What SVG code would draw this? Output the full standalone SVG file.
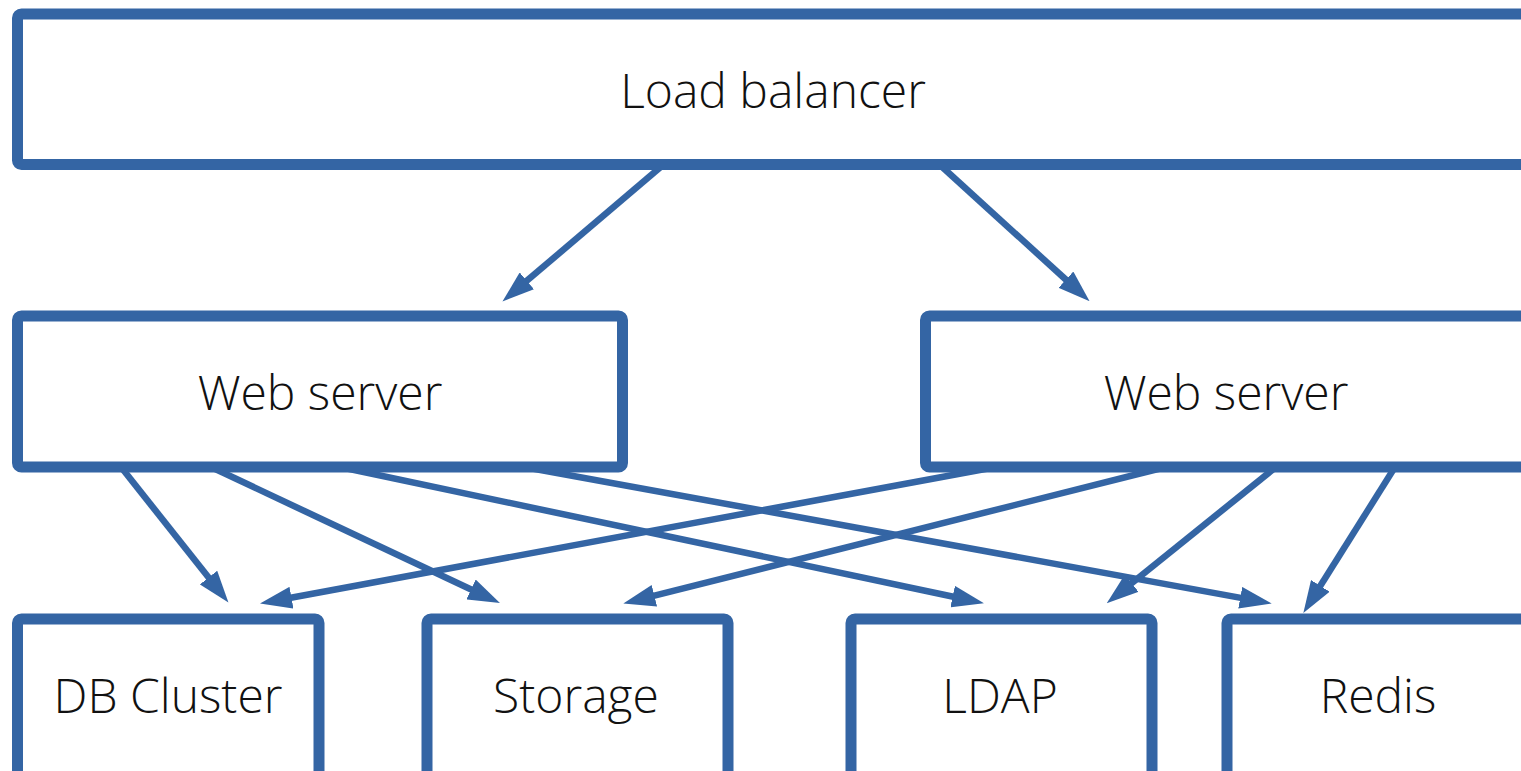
<svg xmlns="http://www.w3.org/2000/svg" width="1521" height="771" viewBox="0 0 1521 771">
  <style>
    .box { fill: #ffffff; stroke: #3465a4; stroke-width: 11; stroke-linejoin: round; }
    .label { font-family: "Open Sans", "Liberation Sans", sans-serif; font-weight: 300; font-size: 48px; fill: #111111; text-anchor: middle; }
    .edge { fill: none; stroke: #3465a4; stroke-width: 6.5; }
  </style>
  <defs>
    <marker id="arrow" viewBox="0 0 32 22" refX="2" refY="11" markerWidth="32" markerHeight="22" markerUnits="userSpaceOnUse" orient="auto">
      <path d="M0,0 L32,11 L0,22 z" fill="#3465a4"/>
    </marker>
  </defs>

  <!-- connectors -->
  <g id="connectors">
    <line class="edge" x1="663" y1="165" x2="525.3" y2="282.1" marker-end="url(#arrow)"/>
    <line class="edge" x1="940" y1="165" x2="1067.4" y2="281" marker-end="url(#arrow)"/>
    <line class="edge" x1="121" y1="467" x2="209.8" y2="579.1" marker-end="url(#arrow)"/>
    <line class="edge" x1="211" y1="467" x2="472.8" y2="590.3" marker-end="url(#arrow)"/>
    <line class="edge" x1="340" y1="467" x2="954.6" y2="597" marker-end="url(#arrow)"/>
    <line class="edge" x1="524" y1="467" x2="1242.2" y2="598.1" marker-end="url(#arrow)"/>
    <line class="edge" x1="996" y1="467" x2="289.5" y2="598" marker-end="url(#arrow)"/>
    <line class="edge" x1="1166" y1="467" x2="652.4" y2="596.2" marker-end="url(#arrow)"/>
    <line class="edge" x1="1276" y1="467" x2="1130.1" y2="584.5" marker-end="url(#arrow)"/>
    <line class="edge" x1="1395" y1="467" x2="1319.3" y2="587.6" marker-end="url(#arrow)"/>
  </g>

  <!-- nodes -->
  <g id="load-balancer">
    <rect class="box" x="17.5" y="14" width="1520" height="150.5" rx="4"/>
    <text class="label" x="773" y="108">Load balancer</text>
  </g>
  <g id="web-server-1">
    <rect class="box" x="17.5" y="316" width="605" height="151" rx="4"/>
    <text class="label" x="320" y="410">Web server</text>
  </g>
  <g id="web-server-2">
    <rect class="box" x="925.5" y="316" width="620" height="151" rx="4"/>
    <text class="label" x="1226" y="410">Web server</text>
  </g>
  <g id="db-cluster">
    <rect class="box" x="17.5" y="619" width="301.5" height="200" rx="4"/>
    <text class="label" x="168" y="713">DB Cluster</text>
  </g>
  <g id="storage">
    <rect class="box" x="427" y="619" width="301" height="200" rx="4"/>
    <text class="label" x="576" y="713">Storage</text>
  </g>
  <g id="ldap">
    <rect class="box" x="851" y="619" width="301" height="200" rx="4"/>
    <text class="label" x="1000" y="713">LDAP</text>
  </g>
  <g id="redis">
    <rect class="box" x="1227" y="619" width="320" height="200" rx="4"/>
    <text class="label" x="1378" y="713">Redis</text>
  </g>
</svg>
